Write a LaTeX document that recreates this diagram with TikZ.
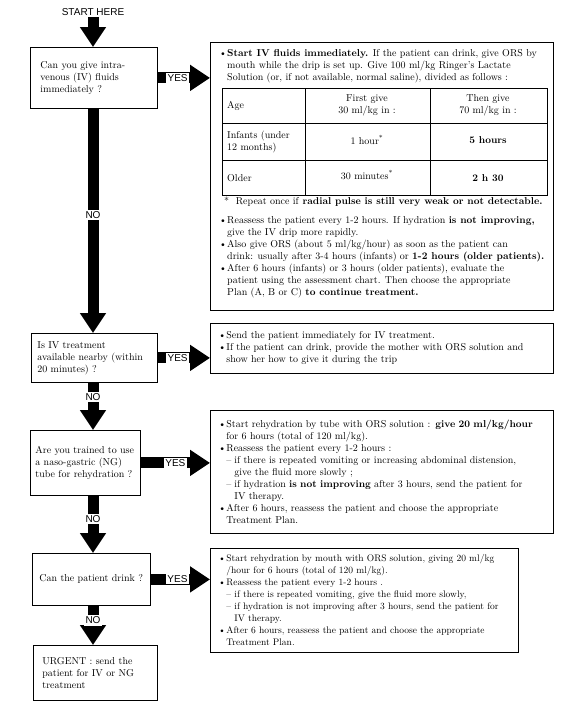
\documentclass[tikz,border=0pt]{standalone}
\usepackage{fontspec}
\setsansfont{Liberation Sans}
\usetikzlibrary{arrows.meta, positioning, calc}

\newcommand{\bpt}{\makebox[8pt][l]{\textbullet}}
\newcommand{\dpt}{\makebox[8pt][l]{--}}
\newcommand{\cont}{\hspace*{8pt}}

\begin{document}
\begin{tikzpicture}[
    x=1pt, y=-1pt,
    every node/.style={font=\fontsize{10}{12}\selectfont},
    qbox/.style={draw, line width=0.8pt, anchor=north west, align=left, inner ysep=0pt},
    planbox/.style={draw, line width=0.8pt, anchor=north west, align=left, inner xsep=8pt, inner ysep=0pt},
    txt/.style={anchor=north west, align=left, inner sep=0pt},
    cell/.style={align=center, inner sep=0pt},
    bigarrow/.style={line width=11pt, -{Triangle[width=25pt, length=20pt]}},
    lbl/.style={fill=white, inner sep=1.5pt, font=\sffamily\fontsize{10}{12}\selectfont}
]
\useasboundingbox (0,0) rectangle (563,704);

% ================= QUESTIONS =================
\node[lbl] (start) at (93,12) {START HERE};
\node[qbox, text width=107pt, inner xsep=10pt, minimum height=61pt] (q1) at (30,47) {Can you give intra-\\venous (IV) fluids\\immediately ?};
\node[qbox, text width=114pt, inner xsep=6pt, minimum height=49pt] (q2) at (31,333) {Is IV treatment\\available nearby (within\\20 minutes) ?};
\node[qbox, text width=100pt, inner xsep=5pt, minimum height=65pt] (q3) at (30,430) {Are you trained to use\\a naso-gastric (NG)\\tube for rehydration ?};
\node[qbox, text width=104pt, inner xsep=7pt, minimum height=52pt] (q4) at (32,553) {Can the patient drink ?};
\node[qbox, text width=106pt, inner xsep=9pt, minimum height=55pt] (urgent) at (33,645) {URGENT : send the\\patient for IV or NG\\treatment};

% ================= PLAN C: IV =================
\node[planbox, minimum width=343pt, minimum height=268pt] (r1) at (210,42) {};
\node[txt] (r1a) at ([xshift=9pt,yshift=-7pt]r1.north west) {\bpt \textbf{Start IV fluids immediately.} If the patient can drink, give ORS by\\
\cont mouth while the drip is set up. Give 100 ml/kg Ringer's Lactate\\
\cont Solution (or, if not available, normal saline), divided as follows :};

% table
\draw[line width=0.8pt] (222,88) rectangle (547,195);
\draw[line width=0.8pt] (305,88) -- (305,195) (430,88) -- (430,195)
  (222,123) -- (547,123) (222,160) -- (547,160);
\node[cell, anchor=west] (hage) at (227,106) {Age};
\node[cell] (hfirst) at (367,105) {First give\\30 ml/kg in :};
\node[cell] (hthen) at (488,105) {Then give\\70 ml/kg in :};
\node[cell, anchor=west, align=left] (infants) at (227,142) {Infants (under\\12 months)};
\node[cell] (inf1) at (367,140) {1 hour\textsuperscript{*}};
\node[cell] (inf2) at (488,140) {\textbf{5 hours}};
\node[cell, anchor=west] (older) at (227,178) {Older};
\node[cell] (old1) at (367,175) {30 minutes\textsuperscript{*}};
\node[cell] (old2) at (488,178) {\textbf{2 h 30}};

\node[txt, anchor=west] (repeat) at (224,202) {* \ Repeat once if \textbf{radial pulse is still very weak or not detectable.}};
\node[txt] (r1b) at (219,216) {\bpt Reassess the patient every 1-2 hours. If hydration \textbf{is not improving,}\\
\cont give the IV drip more rapidly.\\
\bpt Also give ORS (about 5 ml/kg/hour) as soon as the patient can\\
\cont drink: usually after 3-4 hours (infants) or \textbf{1-2 hours (older patients).}\\
\bpt After 6 hours (infants) or 3 hours (older patients), evaluate the\\
\cont patient using the assessment chart. Then choose the appropriate\\
\cont Plan (A, B or C) \textbf{to continue treatment.}};

% ================= OTHER PLANS =================
\node[planbox, text width=327pt, minimum height=50pt] (r2) at (210,323) {\bpt Send the patient immediately for IV treatment.\\
\bpt If the patient can drink, provide the mother with ORS solution and\\
\cont show her how to give it during the trip};

\node[planbox, text width=327pt, minimum height=123pt] (r3) at (210,410) {\bpt Start rehydration by tube with ORS solution : \textbf{give 20 ml/kg/hour}\\
\cont for 6 hours (total of 120 ml/kg).\\
\bpt Reassess the patient every 1-2 hours :\\
\cont\dpt if there is repeated vomiting or increasing abdominal distension,\\
\cont\cont give the fluid more slowly ;\\
\cont\dpt if hydration \textbf{is not improving} after 3 hours, send the patient for\\
\cont\cont IV therapy.\\
\bpt After 6 hours, reassess the patient and choose the appropriate\\
\cont Treatment Plan.};

\node[planbox, text width=292pt, minimum height=104pt, font=\fontsize{9.5}{12}\selectfont] (r4) at (210,548) {\bpt Start rehydration by mouth with ORS solution, giving 20 ml/kg\\
\cont /hour for 6 hours (total of 120 ml/kg).\\
\bpt Reassess the patient every 1-2 hours .\\
\cont\dpt if there is repeated vomiting, give the fluid more slowly,\\
\cont\dpt if hydration is not improving after 3 hours, send the patient for\\
\cont\cont IV therapy.\\
\bpt After 6 hours, reassess the patient and choose the appropriate\\
\cont Treatment Plan.};

% ================= ARROWS =================
\draw[bigarrow] (start.south) -- (q1.north -| start);
\draw[bigarrow] (q1.south -| start) -- node[lbl, pos=0.475] {NO} (q2.north -| start);
\draw[bigarrow] (q2.south -| start) -- node[lbl, pos=0.31] {NO} (q3.north -| start);
\draw[bigarrow] (q3.south -| start) -- node[lbl, pos=0.4] {NO} (q4.north -| start);
\draw[bigarrow] (q4.south -| start) -- node[lbl, pos=0.375] {NO} (urgent.north -| start);

\draw[bigarrow] (q1.east) -- node[lbl, pos=0.38] {YES} (q1.east -| r1.west);
\draw[bigarrow] (q2.east) -- node[lbl, pos=0.38] {YES} (q2.east -| r2.west);
\draw[bigarrow] (q3.east) -- node[lbl, pos=0.5] {YES} (q3.east -| r3.west);
\draw[bigarrow] (q4.east) -- node[lbl, pos=0.45] {YES} (q4.east -| r4.west);

\end{tikzpicture}
\end{document}
